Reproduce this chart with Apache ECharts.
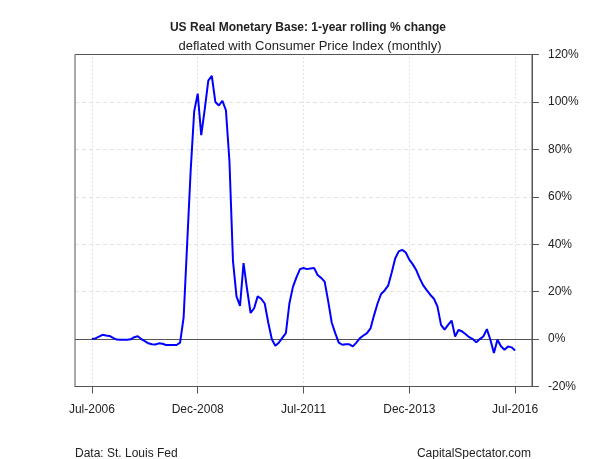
<!DOCTYPE html>
<html>
<head>
<meta charset="utf-8">
<script src="https://cdn.jsdelivr.net/npm/echarts@6/dist/echarts.min.js"></script>
<style>
html,body{margin:0;padding:0;background:#fff;}
#chart{width:599px;height:459px;}
</style>
</head>
<body>
<div id="chart"></div>
<script>
// Monthly series, Jul-2006 .. Jul-2016 (index 0 = Jul-2006)
var values = [
  0, 0.3, 1.0, 1.8, 1.5, 1.3, 0.5, -0.2, -0.3, -0.3, -0.3, -0.1,
  0.8, 1.2, 0, -0.9, -1.8, -2.2, -2.3, -1.8, -2.0, -2.5, -2.5, -2.5,
  -2.5, -1.5, 9, 40, 71, 96, 103.5, 86, 97, 109, 111, 100,
  98.5, 100.5, 96.5, 75, 33, 18, 14, 32, 21, 11, 13, 18,
  17, 15, 7, 0, -2.8, -1.5, 0.5, 2.5, 15, 22, 26, 29.5,
  30, 29.5, 29.8, 30, 27, 25.8, 24.2, 16, 7, 2.5, -1.5, -2.4,
  -2.2, -2.2, -3.1, -1.5, 0.4, 1.5, 2.5, 4.5, 10, 15, 19, 20.5,
  22.5, 28, 34, 37, 37.6, 36.5, 33.5, 31.5, 29, 25.5, 22.5, 20.5,
  18.6, 17, 13.7, 6, 4, 6, 7.8, 1.1, 3.9, 3.2, 2, 0.8,
  0, -1.4, 0, 1.1, 4.2, -0.3, -5.9, -0.3, -3, -4.5, -3.1, -3.5,
  -4.8
];
var tickMonths = [0, 30, 60, 90, 120];
var tickLabels = ['Jul-2006', 'Dec-2008', 'Jul-2011', 'Dec-2013', 'Jul-2016'];

var seriesData = values.map(function (v, i) { return [i, v]; });
var labelFor = {};
tickMonths.forEach(function (m, i) { labelFor[m] = tickLabels[i]; });

var chart = echarts.init(document.getElementById('chart'), null, {renderer: 'canvas'});
var font = 'Liberation Sans, Arial, sans-serif';
chart.setOption({
  animation: false,
  backgroundColor: '#fff',
  title: [
    {text: 'US Real Monetary Base: 1-year rolling % change', left: 303, top: 17, textAlign: 'center',
     textStyle: {fontFamily: font, fontSize: 12, fontWeight: 'bold', color: '#222'}},
    {text: 'deflated with Consumer Price Index (monthly)', left: 305, top: 35, textAlign: 'center',
     textStyle: {fontFamily: font, fontSize: 13, fontWeight: 'normal', color: '#222'}}
  ],
  grid: {left: 75, right: 67, top: 54.5, bottom: 72.5, show: true, borderColor: '#555', borderWidth: 1, backgroundColor: 'transparent', z: 4},
  xAxis: {
    type: 'value', min: -4.8, max: 124.8,
    axisLine: {show: true, onZero: false, lineStyle: {color: '#555'}},
    axisTick: {show: true, length: 7, customValues: tickMonths, lineStyle: {color: '#555'}},
    axisLabel: {customValues: tickMonths, margin: 17, fontFamily: font, fontSize: 12, color: '#222',
      formatter: function (v) { return labelFor[v] || ''; }},
    splitLine: {show: false}
  },
  yAxis: {
    type: 'value', position: 'right', min: -20, max: 120, interval: 20,
    axisLine: {show: true, onZero: false, lineStyle: {color: '#555'}},
    axisTick: {show: true, length: 7, lineStyle: {color: '#555'}},
    axisLabel: {margin: 16, fontFamily: font, fontSize: 12, color: '#222',
      formatter: function (v) { return v + '%'; }},
    splitLine: {show: true, showMinLine: false, showMaxLine: false, lineStyle: {color: '#e2e5da', type: [4, 3]}}
  },
  graphic: [
    {type: 'text', left: 75, top: 448, style: {text: 'Data: St. Louis Fed', font: '12px ' + font, fill: '#222'}},
    {type: 'text', right: 68, top: 448, style: {text: 'CapitalSpectator.com', font: '12px ' + font, fill: '#222'}}
  ],
  series: [{
    type: 'line', data: seriesData, showSymbol: false,
    lineStyle: {color: '#0000ff', width: 2},
    z: 3,
    markLine: {silent: true, symbol: 'none', label: {show: false},
      data: [
        {yAxis: 0, lineStyle: {color: '#555', width: 1, type: 'solid'}}
      ].concat(tickMonths.map(function (m) {
        return {xAxis: m, lineStyle: {color: '#c8c8c8', width: 1, type: [1, 3]}};
      })), z: 2}
  }]
});
</script>
</body>
</html>
